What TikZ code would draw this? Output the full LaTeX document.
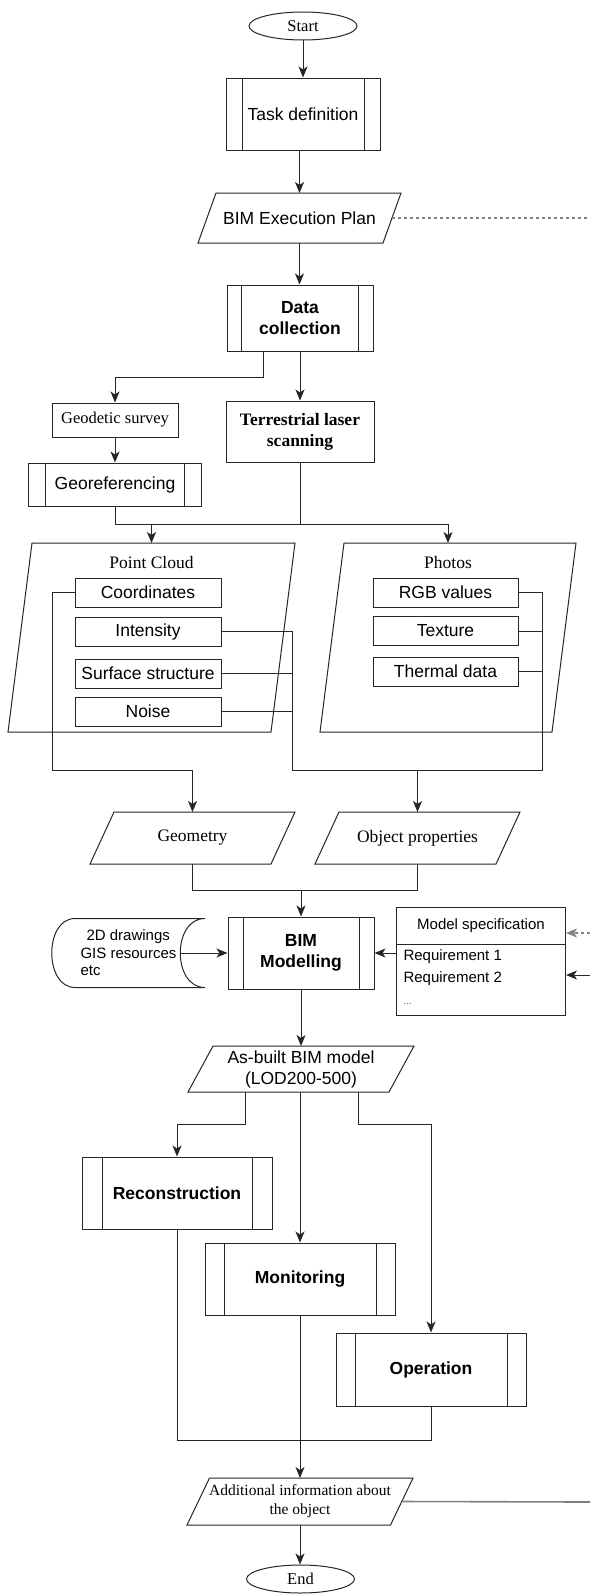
\documentclass[tikz,border=0pt]{standalone}
\usepackage{fontspec}
\setmainfont{Liberation Serif}
\setsansfont{Liberation Sans}
\usetikzlibrary{arrows.meta,shapes.geometric,shapes.multipart}

\newcommand\sanstext{\sffamily\fontsize{17.5}{21}\selectfont}
\newcommand\sanssmall{\sffamily\fontsize{15}{17.5}\selectfont}
\newcommand\seriftext{\rmfamily\fontsize{17.5}{21}\selectfont}
\newcommand\serifsmall{\rmfamily\fontsize{16.5}{19}\selectfont}

\begin{document}
\begin{tikzpicture}[x=1pt, y=-1pt,
    wire/.style={draw=black!85, line width=1pt},
    dashwire/.style={draw=black!50, line width=1.2pt, dash pattern=on 3pt off 3pt},
    arr/.style={wire, -{Stealth[length=11pt,width=9pt,inset=3pt]}},
    term/.style={ellipse, wire, inner sep=0pt, minimum width=108, minimum height=28, font=\serifsmall},
    box/.style={wire, inner sep=0pt, align=center},
    item/.style={wire, inner sep=0pt, minimum width=146, minimum height=29, font=\sanstext},
    proc/.style={wire, inner sep=0pt, align=center, font=\sanstext,
        path picture={\draw[wire] ([xshift=#1]path picture bounding box.north west) -- ([xshift=#1]path picture bounding box.south west)
            ([xshift=-#1]path picture bounding box.north east) -- ([xshift=-#1]path picture bounding box.south east);}},
    proc/.default=16,
    io/.style={inner sep=0pt, outer sep=0pt, align=center,
        append after command={\pgfextra{\let\ionode\tikzlastnode
            \draw[wire] ([xshift=#1]\ionode.north west) -- (\ionode.north east) -- ([xshift=-#1]\ionode.south east) -- (\ionode.south west) -- cycle;}}},
    store/.style={inner sep=0pt, outer sep=0pt,
        append after command={\pgfextra{\let\stnode\tikzlastnode
            \draw[wire] ([xshift=23pt]\stnode.north west) -- (\stnode.north east)
                .. controls ([xshift=-33pt]\stnode.north east) and ([xshift=-33pt]\stnode.south east) .. (\stnode.south east)
                -- ([xshift=23pt]\stnode.south west)
                .. controls ([xshift=-8pt]\stnode.south west) and ([xshift=-8pt]\stnode.north west) .. ([xshift=23pt]\stnode.north west) -- cycle;}}}
]
\useasboundingbox (0,0) rectangle (590,1595);

\node[term] (start) at (303,26) {Start};
\node[proc=16, minimum width=154, minimum height=72] (task) at (303,114) {Task definition};
\node[io=18, minimum width=203, minimum height=50, font=\sanstext] (bep) at (299.5,218) {BIM Execution Plan};
\node[proc=14.5, minimum width=146, minimum height=66, font=\sanstext\bfseries] (data) at (300,318) {Data\\collection};
\node[box, minimum width=126, minimum height=34, font=\serifsmall] (survey) at (115,420) {Geodetic survey};
\node[box, minimum width=148, minimum height=61, font=\seriftext\bfseries] (tls) at (300,431.5) {Terrestrial laser\\scanning};
\node[proc=17, minimum width=173, minimum height=43] (georef) at (115,484.5) {Georeferencing};

\node[io=24, minimum width=287, minimum height=189] (cloud) at (151.5,637.5) {};
\node[font=\seriftext] (cloudtitle) at (151.5,563) {Point Cloud};
\node[io=24, minimum width=256, minimum height=189] (photos) at (448,637.5) {};
\node[font=\seriftext] (photostitle) at (448,563) {Photos};
\node[item] (coord) at (148,592.5) {Coordinates};
\node[item] (inten) at (148,631.5) {Intensity};
\node[item] (surf) at (148,673.5) {Surface structure};
\node[item] (noise) at (148,711.5) {Noise};
\node[item, minimum width=145] (rgb) at (445.5,592.5) {RGB values};
\node[item, minimum width=145] (texture) at (445.5,631) {Texture};
\node[item, minimum width=145] (thermal) at (445.5,671.5) {Thermal data};

\node[io=24, minimum width=205, minimum height=52, font=\seriftext] (geom) at (192.5,838) {Geometry};
\node[io=24, minimum width=205, minimum height=52, font=\seriftext] (props) at (417.5,838) {Object properties};
\node[proc=15, minimum width=146, minimum height=72, font=\sanstext\bfseries] (bim) at (301,953) {BIM\\Modelling};
\node[store, minimum width=153, minimum height=69, font=\sanssmall, align=left] (drawings) at (128.5,953) {\hspace*{6pt}2D drawings\\GIS resources\\etc};
\node[wire, rectangle split, rectangle split parts=2, inner xsep=7pt, inner ysep=0pt, font=\sanssmall, anchor=north west] (spec) at (396,907)
    {\parbox[c][36pt][c]{155pt}{\centering Model specification}\nodepart{two}\parbox[t][70pt][t]{155pt}{\fontsize{15}{22}\selectfont\raggedright\rule{0pt}{15pt}Requirement 1\\Requirement 2\\{\fontsize{10}{22}\selectfont\color{black!60}...}}};
\node[io=25, minimum width=226, minimum height=46, font=\sanstext] (asbuilt) at (301,1069) {As-built BIM model\\(LOD200-500)};

\node[proc=20, minimum width=190, minimum height=72, font=\sanstext\bfseries] (recon) at (177,1193) {Reconstruction};
\node[proc=19, minimum width=190, minimum height=72, font=\sanstext\bfseries] (monitor) at (300,1279) {Monitoring};
\node[proc=19, minimum width=190, minimum height=73, font=\sanstext\bfseries] (oper) at (431,1369.5) {Operation};
\node[io=22.5, minimum width=226, minimum height=47, font=\rmfamily\fontsize{15.5}{19}\selectfont] (info) at (300,1501.5) {Additional information about\\the object};
\node[term] (end) at (300.5,1579) {End};

\coordinate (split) at (300,524);
\coordinate (leftbus) at (52,770);
\coordinate (midbus) at (292,770);
\coordinate (rightbus) at (542,770);
\coordinate (merge) at (301,890);
\coordinate (join) at (300,1440);
\coordinate (planout) at (590,218);
\coordinate (specin) at (590,933);
\coordinate (reqin) at (590,975);
\coordinate (infoout) at (590,1502);

\draw[arr] (start) -- (task);
\draw[arr] (task.south -| bep.north) -- (bep.north);
\draw[arr] (bep.south) -- (bep.south |- data.north);
\draw[arr] (data.south) -- (tls.north);
\draw[arr] ([xshift=-37pt]data.south) -- ++(0,26) -| (survey.north);
\draw[arr] (survey) -- (georef);
\draw[wire] (georef.south) |- (split);
\draw[wire] (tls.south) -- (split);
\draw[arr] (split) -| (photos.north);
\draw[arr] (split -| cloud.north) -- (cloud.north);
\draw[dashwire] ([xshift=-9pt]bep.east) -- (planout);

\draw[arr] (coord.west) -| (leftbus) -| (geom.north);
\draw[wire] (inten.east) -| (midbus) -- (rightbus) |- (rgb.east);
\draw[wire] (surf.east) -- (surf.east -| midbus);
\draw[wire] (noise.east) -- (noise.east -| midbus);
\draw[wire] (texture.east) -- (texture.east -| rightbus);
\draw[wire] (thermal.east) -- (thermal.east -| rightbus);
\draw[arr] (props.north |- midbus) -- (props.north);

\draw[wire] (geom.south) |- (merge) -| (props.south);
\draw[arr] (merge) -- (bim.north);
\draw[arr] ([xshift=-25pt]drawings.east) -- (bim.west);
\draw[arr] (spec.west |- bim.east) -- (bim.east);
\draw[arr, dashwire] (specin) -- (specin -| spec.east);
\draw[arr] (reqin) -- (reqin -| spec.east);
\draw[arr] (bim) -- (asbuilt);

\draw[arr] ([xshift=-56pt]asbuilt.south) -- ++(0,32) -| (recon.north);
\draw[arr] (asbuilt.south -| monitor.north) -- (monitor.north);
\draw[arr] ([xshift=57pt]asbuilt.south) -- ++(0,32) -| (oper.north);
\draw[wire] (recon.south) |- (join) -| (oper.south);
\draw[arr] (monitor.south) -- (info.north);
\draw[wire, draw=black!50, line width=1.6pt] ([xshift=-11pt]info.east) -- (infoout);
\draw[arr] (info.south) -- (info.south |- end.north);
\end{tikzpicture}
\end{document}
